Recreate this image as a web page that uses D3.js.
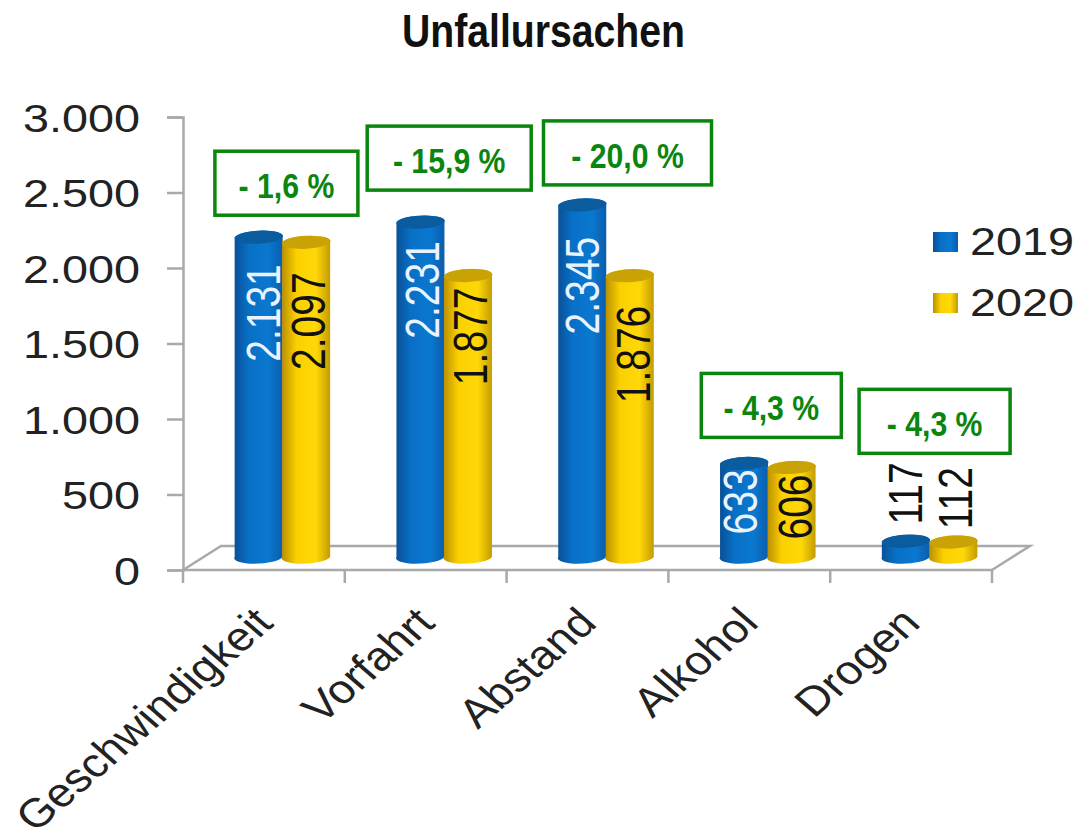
<!DOCTYPE html>
<html>
<head>
<meta charset="utf-8">
<script src="https://cdn.jsdelivr.net/npm/d3@7"></script>
<style>
  html, body { margin: 0; background: #fff; }
  text { font-family: "Liberation Sans", Arial, sans-serif; }
  .narrow { font-weight: 700; }
</style>
</head>
<body>
<div id="chart"></div>
<script>
const categories = ["Geschwindigkeit", "Vorfahrt", "Abstand", "Alkohol", "Drogen"];
const years = ["2019", "2020"];
const values2019 = [2131, 2231, 2345, 633, 117];
const values2020 = [2097, 1877, 1876, 606, 112];
const changes = ["- 1,6 %", "- 15,9 %", "- 20,0 %", "- 4,3 %", "- 4,3 %"];
const yTicks = [0, 500, 1000, 1500, 2000, 2500, 3000];

// layout only: how far each note and value label sits from its bars
const noteShift = [5.5, 6.5, 23, 5, 6.5];
const noteLift = [22, 32, 20, 26, 88];
const noteWidth = [143, 164, 168, 140, 151];
const labelDrop = [[27, 30], [19, 12], [32, 30], [6, 7], [-79, -75]];
const labelNudge = [[21, 19], [19, 19], [17, 20], [12.5, 20], [16, 19]];

const width = 1079;
const height = 840;
const stretch = 1.2; // the picture is wider than it is tall, text included
const floorDx = 38;
const floorDy = 24;
const topLift = 11;
const baseLift = 13;
const rx = 24;
const ry = 6.5;
const gray = "#a9a9a9";

const svg = d3.select("#chart").append("svg").attr("width", width).attr("height", height);

const x = d3.scaleBand().domain(categories).range([183, 992]);
const inner = d3.scaleBand().domain(years).range([-47.5, 47.5]);
const y = d3.scaleLinear().domain([0, 3000]).range([570, 117]);
const color = d3.scaleOrdinal().domain(years).range(["blue", "yellow"]);
const series = { 2019: values2019, 2020: values2020 };
const deLocale = d3.formatLocale({ decimal: ",", thousands: ".", grouping: [3], currency: ["", " €"] });
const fmt = deLocale.format(",d");

const defs = svg.append("defs");
const shades = {
  blue: ["#0a4f96", "#0870c6", "#0a78cf", "#0a5cac"],
  yellow: ["#b98f00", "#fbd000", "#ffd808", "#c29a00"],
};
Object.entries(shades).forEach(([name, stops]) => {
  const g = defs.append("linearGradient").attr("id", `grad-${name}`);
  stops.forEach((c, i) => {
    g.append("stop").attr("offset", [0, 0.3, 0.7, 1][i]).attr("stop-color", c);
  });
});
const capColor = { blue: "#0a5c9f", yellow: "#c9a206" };

svg
  .append("text")
  .attr("class", "narrow")
  .attr("x", 543.5)
  .attr("y", 47)
  .attr("text-anchor", "middle")
  .attr("font-size", 46)
  .attr("fill", "#111")
  .attr("textLength", 283)
  .attr("lengthAdjust", "spacingAndGlyphs")
  .text("Unfallursachen");

// floor of the 3D box
const floor = d3.path();
floor.moveTo(x.range()[0], y(0));
floor.lineTo(x.range()[0] + floorDx, y(0) - floorDy);
floor.lineTo(x.range()[1] + floorDx, y(0) - floorDy);
floor.lineTo(x.range()[1], y(0));
svg.append("path").attr("d", floor.toString()).attr("fill", "none").attr("stroke", gray).attr("stroke-width", 2.5);

// axes
const yAxis = d3.axisLeft(y).tickValues(yTicks).tickSize(16).tickFormat(fmt);
const yG = svg.append("g").attr("transform", `translate(${x.range()[0]},0)`).call(yAxis);
yG.select(".domain").attr("stroke", gray).attr("stroke-width", 2.5);
yG.selectAll("line").attr("stroke", gray).attr("stroke-width", 2.5);
yG.selectAll("text")
  .attr("x", 0)
  .attr("dy", null)
  .attr("y", 14)
  .attr("transform", `translate(-43,0) scale(${stretch},1)`)
  .attr("text-anchor", "end")
  .attr("font-size", 39)
  .attr("font-family", "Liberation Sans")
  .attr("fill", "#222");

const xAxis = svg.append("g").attr("transform", `translate(0,${y(0)})`);
xAxis
  .append("line")
  .attr("x1", x.range()[0])
  .attr("x2", x.range()[1])
  .attr("stroke", gray)
  .attr("stroke-width", 2.5);
xAxis
  .selectAll(".xtick")
  .data([...categories.map((d) => x(d)), x.range()[1]])
  .join("line")
  .attr("class", "xtick")
  .attr("x1", (d) => d)
  .attr("x2", (d) => d)
  .attr("y1", 0)
  .attr("y2", 13)
  .attr("stroke", gray)
  .attr("stroke-width", 2.5);

xAxis
  .selectAll(".xlabel")
  .data(categories)
  .join("text")
  .attr("class", "xlabel")
  .attr("transform", (d) => `translate(${x(d) + x.bandwidth() / 2 + 11},55) scale(1.15,1) rotate(-45)`)
  .attr("text-anchor", "end")
  .attr("font-size", 40.5)
  .attr("fill", "#222")
  .text((d) => d);

function cylinder(cx, top, bottom) {
  return `M${cx - rx},${top}L${cx - rx},${bottom}A${rx},${ry} -3 0 0 ${cx + rx},${bottom}L${cx + rx},${top}A${rx},${ry} -3 0 0 ${cx - rx},${top}Z`;
}

const bars = categories.flatMap((c, i) =>
  years.map((yr, j) => ({
    category: c,
    year: yr,
    value: series[yr][i],
    drop: labelDrop[i][j],
    nudge: labelNudge[i][j],
  }))
);
const barX = (d) => x(d.category) + x.bandwidth() / 2 + 18.5 + inner(d.year) + inner.bandwidth() / 2;
const barTop = (d) => y(d.value) - topLift;

const barG = svg.selectAll(".bar").data(bars).join("g").attr("class", "bar");
barG
  .append("path")
  .attr("d", (d) => cylinder(barX(d), barTop(d), y(0) - baseLift))
  .attr("fill", (d) => `url(#grad-${color(d.year)})`);
barG
  .append("ellipse")
  .attr("transform", (d) => `translate(${barX(d)},${barTop(d)}) rotate(-3)`)
  .attr("rx", rx)
  .attr("ry", ry)
  .attr("fill", (d) => capColor[color(d.year)]);
barG
  .append("text")
  .attr("transform", (d) => `translate(${barX(d) + d.nudge},${barTop(d) + d.drop}) scale(1.25,1) rotate(-90)`)
  .attr("text-anchor", "end")
  .attr("font-size", 39)
  .attr("fill", (d) => (d.year === "2019" && d.value > 500 ? "#e8f3ff" : "#111"))
  .text((d) => fmt(d.value));

// green change notes above each group
const notes = categories.map((c, i) => {
  const cx = x(c) + x.bandwidth() / 2 + 17 + noteShift[i];
  const bottom = y(Math.max(values2019[i], values2020[i])) - topLift - noteLift[i];
  return { text: changes[i], cx, bottom, w: noteWidth[i] };
});
const noteG = svg.selectAll(".note").data(notes).join("g").attr("class", "note");
noteG
  .append("rect")
  .attr("x", (d) => d.cx - d.w / 2)
  .attr("y", (d) => d.bottom - 64)
  .attr("width", (d) => d.w)
  .attr("height", 64)
  .attr("fill", "#fff")
  .attr("stroke", "#0a860f")
  .attr("stroke-width", 3.5);
noteG
  .append("text")
  .attr("class", "narrow")
  .attr("transform", (d) => `translate(${d.cx},${d.bottom - 17}) scale(0.84,1)`)
  .attr("text-anchor", "middle")
  .attr("font-size", 36)
  .attr("fill", "#0a860f")
  .text((d) => d.text);

// legend
const legend = svg.selectAll(".legend").data(years).join("g").attr("class", "legend")
  .attr("transform", (d, i) => `translate(933,${232 + i * 61})`);
legend
  .append("rect")
  .attr("width", 25)
  .attr("height", 20)
  .attr("fill", (d) => `url(#grad-${color(d)})`);
legend
  .append("text")
  .attr("transform", `translate(37,23) scale(${stretch},1)`)
  .attr("font-size", 39)
  .attr("fill", "#222")
  .text((d) => d);
</script>
</body>
</html>
